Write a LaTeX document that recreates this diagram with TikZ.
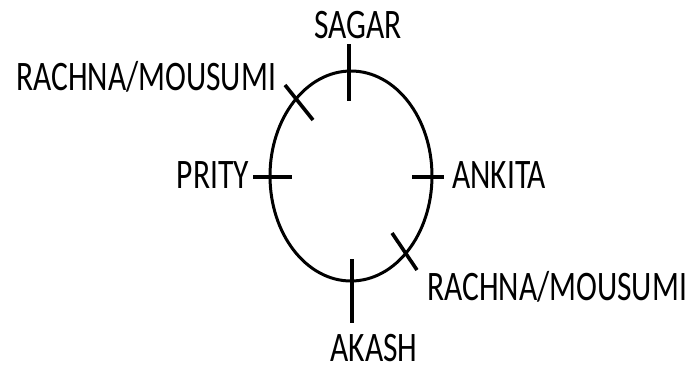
\documentclass[tikz,border=0pt]{standalone}
\usepackage{fontspec}
\setmainfont{Carlito}[FakeStretch=0.75]
\begin{document}
\begin{tikzpicture}[x=1pt, y=-1pt,
    seatname/.style={inner sep=0pt, anchor=base, font=\fontsize{42}{42}\selectfont},
    mark line/.style={line width=3.6pt}]
    % Page
    \useasboundingbox (0,0) rectangle (699,370);
    % Seating ring
    \draw [line width=3pt] (351,176) ellipse [x radius=81, y radius=105];
    % Coordinate
    \coordinate (S1) at (349,44);  \coordinate (S2) at (349,101);
    \coordinate (P1) at (253,177); \coordinate (P2) at (292,177);
    \coordinate (K1) at (412,177); \coordinate (K2) at (444,177);
    \coordinate (A1) at (352,259); \coordinate (A2) at (352,323);
    \coordinate (R1) at (285,85);  \coordinate (R2) at (313,120);
    \coordinate (M1) at (392,233); \coordinate (M2) at (417,270);
    % Seats
    \draw [mark line] (S1) -- (S2); % top
    \draw [mark line] (P1) -- (P2); % left
    \draw [mark line] (K1) -- (K2); % right
    \draw [mark line] (A1) -- (A2); % bottom
    \draw [mark line] (R1) -- (R2); % upper left
    \draw [mark line] (M1) -- (M2); % lower right
    % Names
    \node [seatname] (sagar) at (358,38) {SAGAR};
    \node [seatname, anchor=base east] (prity) at (249,188) {PRITY};
    \node [seatname, anchor=base west] (ankita) at (452,188) {ANKITA};
    \node [seatname] (akash) at (374,361) {AKASH};
    \node [seatname, anchor=base west] (rachnaup) at (16,90) {RACHNA/MOUSUMI};
    \node [seatname, anchor=base west] (rachnalow) at (427,300) {RACHNA/MOUSUMI};
\end{tikzpicture}
\end{document}
